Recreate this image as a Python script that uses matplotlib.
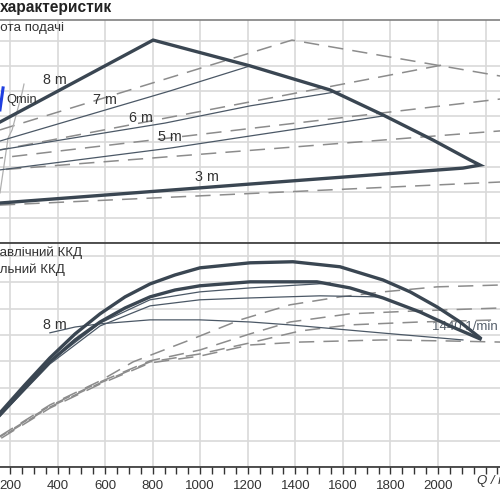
import matplotlib
matplotlib.use("Agg")
import matplotlib.pyplot as plt
from matplotlib.ticker import MultipleLocator

plt.rcParams['font.family'] = ['Liberation Sans', 'DejaVu Sans']

# --- head chart (top), Q in m3/h, H in m ---
env_q = [158, 802, 1210, 1546, 1769, 1979, 2135, 2177, 2105, 1210, 158]
env_h = [4.78, 8.02, 7.0, 6.05, 5.06, 4.07, 3.28, 3.08, 2.96, 2.33, 1.58]

h7_q = [158, 873, 1210]
h7_h = [4.03, 6.01, 7.0]
h6_q = [158, 852, 1210, 1588]
h6_h = [3.68, 4.74, 5.42, 6.0]
h5_q = [158, 873, 1210, 1769]
h5_h = [2.89, 3.75, 4.23, 5.02]

dash_env_q = [158, 1386, 2261]
dash_env_h = [4.47, 8.02, 6.60]
dash_a_q = [158, 2021]
dash_a_h = [3.68, 7.04]
dash_b_q = [158, 2261]
dash_b_h = [3.36, 5.69]
dash_c_q = [158, 2261]
dash_c_h = [2.89, 4.43]
dash_d_q = [158, 2261]
dash_d_h = [1.50, 2.41]

qmin_grey_q = [259, 252, 209, 192, 158]
qmin_grey_h = [6.28, 5.97, 4.47, 4.15, 1.98]
qmin_blue_q = [171, 158]
qmin_blue_h = [6.13, 5.26]

# --- efficiency chart (bottom), eta in % ---
eta1_q = [158, 263, 368, 474, 579, 684, 789, 894, 999, 1210, 1390, 1588, 1769, 1883, 1996, 2093, 2177]
eta1_v = [20.5, 31.1, 41.3, 50.4, 58.0, 64.4, 69.3, 72.7, 75.4, 77.3, 77.7, 75.8, 70.8, 66.3, 60.6, 54.9, 48.9]
eta2_q = [158, 263, 368, 474, 579, 684, 789, 894, 999, 1210, 1491, 1630, 1769, 1924, 2051, 2177]
eta2_v = [19.7, 29.9, 39.8, 48.1, 54.9, 60.2, 64.4, 67.0, 68.6, 70.1, 70.1, 67.8, 64.0, 58.7, 53.4, 48.5]
eta3_q = [158, 368, 579, 789, 999, 1210, 1491, 1546]
eta3_v = [19.7, 39.8, 54.5, 63.3, 66.3, 67.8, 69.3, 69.7]
eta4_q = [158, 368, 579, 789, 999, 1210, 1504, 1756]
eta4_v = [19.3, 39.0, 53.4, 61.0, 63.3, 64.0, 64.8, 64.4]
eta8_q = [368, 474, 579, 789, 999, 1210, 1378, 1756, 2105]
eta8_v = [50.8, 53.0, 54.2, 55.7, 55.7, 54.9, 53.8, 50.8, 48.1]

deta1_q = [158, 368, 579, 718, 957, 1168, 1378, 1588, 1769, 1996, 2261]
deta1_v = [11.7, 23.5, 32.6, 39.8, 48.1, 55.7, 61.4, 64.4, 66.3, 68.2, 68.9]
deta2_q = [158, 368, 579, 789, 999, 1210, 1378, 1630, 1912, 2261]
deta2_v = [11.4, 23.1, 32.2, 40.2, 44.3, 50.4, 54.9, 58.0, 59.1, 60.2]
deta3_q = [158, 368, 579, 789, 999, 1210, 1420, 1630, 1924, 2261]
deta3_v = [11.0, 22.7, 31.8, 39.8, 42.8, 47.0, 51.5, 53.8, 54.9, 55.7]
deta4_q = [158, 368, 579, 789, 999, 1210, 1420, 1769, 2051, 2261]
deta4_v = [10.6, 22.3, 31.4, 39.4, 42.0, 46.2, 47.3, 48.1, 47.7, 47.3]

q_ticks = [200, 400, 600, 800, 1000, 1200, 1400, 1600, 1800, 2000]

THICK = '#3a4652'
THIN = '#4b5866'
DASH = '#8c8c8c'
GRID = '#d9d9d9'

fig = plt.figure(figsize=(5, 5), dpi=100)
ax_h = fig.add_axes([-0.0752, 0.514, 1.0938, 0.446])
ax_e = fig.add_axes([-0.0752, 0.066, 1.0938, 0.448])

for ax in (ax_h, ax_e):
    ax.set_xlim(0, 2300)
    ax.xaxis.set_major_locator(MultipleLocator(200))
    ax.grid(True, color=GRID, lw=1.2)
    ax.set_axisbelow(True)
    for s in ('left', 'right', 'bottom'):
        ax.spines[s].set_visible(False)

ax_h.set_ylim(0, 8.814)
ax_h.yaxis.set_major_locator(MultipleLocator(1))
ax_h.tick_params(length=0, labelbottom=False, labelleft=False)
ax_h.spines['top'].set_color('#808080')
ax_h.spines['top'].set_linewidth(1.2)

ax_e.set_ylim(0, 84.8)
ax_e.yaxis.set_major_locator(MultipleLocator(10))
ax_e.spines['top'].set_color('#333333')
ax_e.spines['top'].set_linewidth(1.2)
ax_e.spines['bottom'].set_visible(True)
ax_e.spines['bottom'].set_color('#333333')
ax_e.spines['bottom'].set_linewidth(1.2)
ax_e.xaxis.set_minor_locator(MultipleLocator(50))
ax_e.set_xticks(q_ticks)
ax_e.set_xticklabels([str(q) for q in q_ticks])
ax_e.tick_params(axis='x', which='both', direction='out', length=5, width=1, color='#333333',
                 labelsize=9.5, labelcolor='#333333', pad=4.5)
ax_e.tick_params(axis='y', length=0, labelleft=False)
ax_e.grid(True, which='major', color=GRID, lw=1.2)


def dashed(ax, q, v, off):
    ax.plot(q, v, color=DASH, lw=1.1, linestyle=(off, (10, 6)))


# head chart
for i, (q, h) in enumerate([(dash_env_q, dash_env_h), (dash_a_q, dash_a_h), (dash_b_q, dash_b_h),
                            (dash_c_q, dash_c_h), (dash_d_q, dash_d_h)]):
    dashed(ax_h, q, h, 4 * i)
ax_h.plot(qmin_grey_q, qmin_grey_h, color='#b0b0b0', lw=0.9)
for q, h in [(h7_q, h7_h), (h6_q, h6_h), (h5_q, h5_h)]:
    ax_h.plot(q, h, color=THIN, lw=0.9)
ax_h.plot(env_q, env_h, color=THICK, lw=2.4, solid_joinstyle='miter')
ax_h.plot(qmin_blue_q, qmin_blue_h, color='#1f3fe0', lw=2.2)

lbl = dict(fontsize=10.3, color='#333333', ha='center', va='center')
ax_h.text(389, 6.44, '8 m', **lbl)
ax_h.text(600, 5.65, '7 m', **lbl)
ax_h.text(751, 4.94, '6 m', **lbl)
ax_h.text(873, 4.19, '5 m', **lbl)
ax_h.text(1029, 2.6, '3 m', **lbl)
ax_h.text(186, 5.65, 'Qmin', fontsize=9.3, color='#333333', ha='left', va='center')

# efficiency chart
for i, (q, v) in enumerate([(deta1_q, deta1_v), (deta2_q, deta2_v), (deta3_q, deta3_v), (deta4_q, deta4_v)]):
    dashed(ax_e, q, v, 5 * i)
for q, v in [(eta3_q, eta3_v), (eta4_q, eta4_v), (eta8_q, eta8_v)]:
    ax_e.plot(q, v, color=THIN, lw=0.9)
ax_e.plot(eta2_q, eta2_v, color=THICK, lw=2.4)
ax_e.plot(eta1_q, eta1_v, color=THICK, lw=2.4)
ax_e.text(389, 53.8, '8 m', **lbl)
ax_e.text(1975, 53.0, '1440 1/min', fontsize=9.5, color='#555f6a', ha='left', va='center', zorder=1)
ax_e.text(2164, -2.6, 'Q / m³/h', fontsize=9.5, color='#333333', style='italic',
          ha='left', va='top')


def cut_text(s, prefix, y, **kw):
    r = fig.canvas.get_renderer()
    t = fig.text(0, y, prefix, **kw)
    w = t.get_window_extent(renderer=r).width
    t.remove()
    fig.text(-w / fig.bbox.width, y, s, **kw)


head_kw = dict(fontsize=9.6, color='#333333', va='center')
cut_text('Висота подачі', 'Вис', 0.943, **head_kw)
cut_text('Гідравлічний ККД', 'Гідр', 0.494, **head_kw)
cut_text('Загальний ККД', 'Зага', 0.46, **head_kw)
fig.text(0.0, 0.985, 'характеристик', fontsize=11.2, fontweight='bold', color='#222222', va='center')

fig.savefig('out.png', dpi=100)
